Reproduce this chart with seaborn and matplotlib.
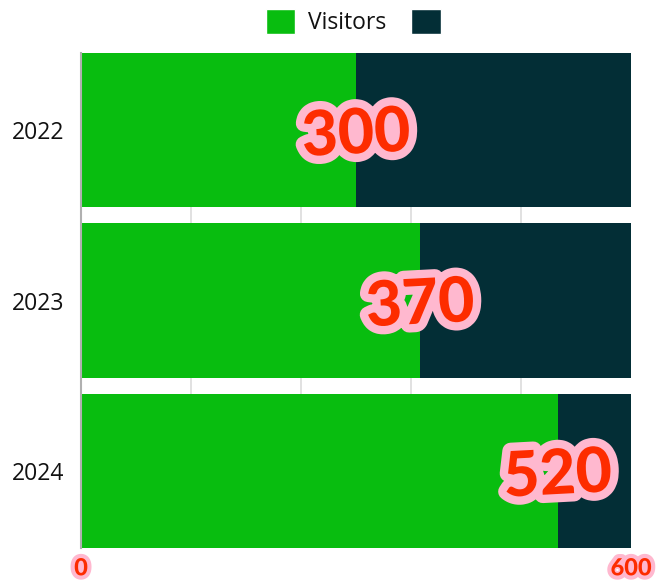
import matplotlib
matplotlib.use("Agg")
import matplotlib.pyplot as plt
import matplotlib.patheffects as pe
from matplotlib.patches import Patch
import seaborn as sns
import pandas as pd

years = ["2022", "2023", "2024"]
visitors = [300, 370, 520]
totals = [600, 600, 600]
legend_labels = ["Visitors", ""]
x_ticks = [0, 600]
grid_ticks = [120, 240, 360, 480, 600]

GREEN = "#08bd0f"
DARK = "#032e36"
RED = "#fd2c00"
PINK = "#ffb8cf"

sns.set_theme(style="white")
plt.rcParams["font.family"] = ["Open Sans", "DejaVu Sans"]

df = pd.DataFrame({"year": years, "visitors": visitors, "total": totals})

fig = plt.figure(figsize=(6.6, 5.88), dpi=100)
ax = fig.add_axes([81 / 660, 1 - 548 / 588, 550 / 660, 495 / 588])

sns.barplot(data=df, y="year", x="total", color=DARK, width=0.906, ax=ax,
            orient="h", zorder=2, saturation=1, linewidth=0)
sns.barplot(data=df, y="year", x="visitors", color=GREEN, width=0.906, ax=ax,
            orient="h", zorder=3, saturation=1, linewidth=0)

ax.set_xlim(0, 600)
ax.set_ylim(2.453, -0.453)
ax.set_xlabel("")
ax.set_ylabel("")

ax.set_xticks(grid_ticks, minor=True)
ax.grid(True, which="minor", axis="x", color="#dcdcdc", linewidth=1.2, zorder=0)
ax.grid(False, which="major")
ax.set_axisbelow(True)

ax.set_xticks(x_ticks)
ax.set_xticklabels([str(t) for t in x_ticks])
ax.tick_params(axis="x", which="both", length=0, pad=6)
ax.tick_params(axis="y", length=0, pad=12)
for lbl in ax.get_xticklabels():
    lbl.set_fontsize(17)
    lbl.set_family(["Lato", "DejaVu Sans"])
    lbl.set_fontweight("black")
    lbl.set_color(RED)
    lbl.set_path_effects([pe.withStroke(linewidth=6, foreground=PINK)])
for lbl in ax.get_yticklabels():
    lbl.set_fontsize(16.5)
    lbl.set_color("#111111")

for s in ["top", "right", "bottom"]:
    ax.spines[s].set_visible(False)
ax.spines["left"].set_color("#b0b0b0")
ax.spines["left"].set_linewidth(1.5)
ax.spines["left"].set_zorder(5)

for i, v in enumerate(visitors):
    ax.text(v, i + 0.03, str(v), ha="center", va="center", fontsize=45,
            family=["Lato", "DejaVu Sans"], fontweight="black", color=RED,
            rotation=3, zorder=10,
            path_effects=[pe.withStroke(linewidth=12, foreground=PINK)])

handles = [Patch(facecolor=GREEN, label=legend_labels[0]),
           Patch(facecolor=DARK, label=legend_labels[1])]
fig.legend(handles=handles, loc="center", bbox_to_anchor=(0.545, 1 - 22 / 588),
           ncol=2, frameon=False, fontsize=16.5, handlelength=1.3, handleheight=1.3,
           columnspacing=1.1, handletextpad=0.55, labelcolor="#111111")

fig.savefig("out.png", dpi=100)
